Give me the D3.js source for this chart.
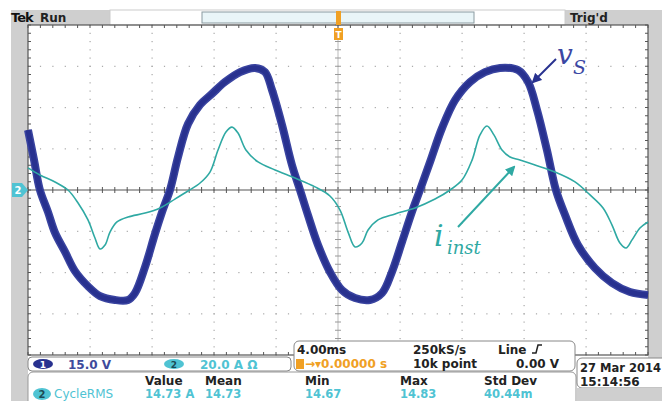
<!DOCTYPE html>
<html>
<head>
<meta charset="utf-8">
<script src="https://cdn.jsdelivr.net/npm/d3@7"></script>
<style>
  body { margin: 0; background: #fff; }
  svg { display: block; }
  .ui { font-family: "DejaVu Sans", sans-serif; font-weight: bold; }
  .note { font-family: "DejaVu Serif", serif; font-style: italic; }
</style>
</head>
<body>
<script>
// scope settings (per division)
const TIME_PER_DIV = 4;      // ms
const VOLT_PER_DIV = 15;     // V
const AMP_PER_DIV = 20;      // A

// v_s trace: time (ms) and volts
const vsTime = [0, 0.39, 0.77, 1.29, 1.74, 2.39, 3.03, 3.87, 4.65, 5.61, 6.45, 6.90, 7.55, 8.19, 8.71, 9.16,
  9.68, 10.32, 11.10, 11.87, 12.71, 13.68, 14.65, 15.29, 15.74, 16.39, 17.03, 17.55, 18.06, 18.71, 19.48,
  20.26, 21.10, 22.06, 22.84, 23.48, 24.13, 24.77, 25.29, 25.94, 26.71, 27.55, 28.52, 29.48, 30.45, 31.61,
  32.26, 32.84, 33.48, 34.06, 34.65, 35.48, 36.58, 37.68, 38.84, 40.0];
const vsVolts = [21.8, 10.9, 0, -8.0, -15.5, -22.5, -29.5, -35.0, -38.6, -40.0, -40.0, -37.5, -28.0, -16.0,
  -7.0, 0, 12.0, 24.0, 31.0, 35.0, 39.3, 42.9, 44.4, 42.9, 36.4, 23.6, 9.1, 0, -9.1, -20.0, -29.8, -36.4,
  -39.3, -40.0, -37.5, -29.8, -18.9, -8.0, 0, 10.2, 22.5, 32.7, 39.3, 42.9, 44.4, 43.6, 39.3, 29.1, 14.5,
  0, -9.1, -20.0, -28.4, -33.8, -37.1, -38.2];

// i_inst trace: time (ms) and amps
const iTime = [0, 0.77, 1.74, 2.58, 3.23, 3.87, 4.32, 4.65, 4.97, 5.29, 5.74, 6.45, 7.55, 8.52, 9.48, 10.32,
  11.10, 11.74, 12.26, 12.77, 13.16, 13.55, 14.06, 14.84, 15.94, 17.23, 18.52, 19.48, 20.13, 20.65, 21.10,
  21.55, 21.94, 22.58, 23.68, 24.97, 26.26, 27.23, 28.0, 28.65, 29.16, 29.61, 30.06, 30.58, 31.10, 31.74,
  32.71, 34.0, 35.29, 36.26, 37.10, 37.68, 38.19, 38.58, 38.97, 39.48, 40.0];
const iAmps = [10.7, 7.3, 3.9, 0, -6.3, -14.5, -23.3, -28.6, -26.7, -20.4, -15.5, -13.1, -11.2, -8.7, -4.4,
  -0.5, 3.4, 8.7, 19.4, 28.1, 30.5, 27.6, 19.4, 13.6, 9.7, 5.8, 1.5, -2.9, -9.7, -20.4, -27.6, -25.7, -19.4,
  -14.5, -11.6, -8.7, -4.4, 0, 4.8, 14.5, 26.7, 31.0, 26.7, 19.4, 16.0, 14.5, 12.1, 8.7, 3.9, -2.4, -8.7,
  -17.0, -25.7, -28.1, -24.2, -18.4, -15.5];

// readouts
const measHeaders = ["Value", "Mean", "Min", "Max", "Std Dev"];
const measValues = ["14.73 A", "14.73", "14.67", "14.83", "40.44m"];

const W = 662, H = 401;
const plot = { left: 28, right: 648, top: 25, bottom: 355 };
const BLUE = "#28318f", TEAL = "#2fa9a3", CYAN = "#4fc3d3", ORANGE = "#f0a024", GRAY = "#cfcfcf";

const svg = d3.select("body").append("svg").attr("width", W).attr("height", H);
svg.append("rect").attr("width", W).attr("height", H).attr("fill", "#fff");

const x = d3.scaleLinear().domain([0, 10 * TIME_PER_DIV]).range([plot.left, plot.right]);
const yDiv = d3.scaleLinear().domain([-4, 4]).range([plot.bottom, plot.top]);
const yV = d3.scaleLinear().domain([-4 * VOLT_PER_DIV, 4 * VOLT_PER_DIV]).range([plot.bottom, plot.top]);
const yA = d3.scaleLinear().domain([-4 * AMP_PER_DIV, 4 * AMP_PER_DIV]).range([plot.bottom, plot.top]);

/*** frame ***/
svg.append("rect").attr("x", 11).attr("y", 10).attr("width", 17).attr("height", H - 10).attr("fill", GRAY);
svg.append("rect").attr("x", 11).attr("y", 10).attr("width", 99).attr("height", 15).attr("fill", GRAY);
svg.append("rect").attr("x", 565).attr("y", 10).attr("width", 97).attr("height", 15).attr("fill", GRAY);
svg.append("rect").attr("x", 648).attr("y", 10).attr("width", 14).attr("height", H - 10).attr("fill", GRAY);
svg.append("rect").attr("x", 110).attr("y", 10).attr("width", 455).attr("height", 15)
  .attr("fill", "#fff").attr("stroke", "#ccc");
svg.append("rect").attr("x", 202).attr("y", 12).attr("width", 272).attr("height", 11)
  .attr("fill", "#e9f5f8").attr("stroke", "#8a9aa0");

svg.append("text").attr("class", "ui").attr("x", 11).attr("y", 22).attr("font-size", 13)
  .attr("fill", "#111").attr("letter-spacing", -1).text("Tek");
svg.append("text").attr("class", "ui").attr("x", 40).attr("y", 22).attr("font-size", 12)
  .attr("fill", "#222").text("Run");
svg.append("text").attr("class", "ui").attr("x", 570).attr("y", 22).attr("font-size", 12)
  .attr("fill", "#222").text("Trig'd");

/*** graticule ***/
const grid = svg.append("g");
const minorX = d3.range(0, 10 * TIME_PER_DIV + 0.001, TIME_PER_DIV / 5);
const minorY = d3.range(-4, 4.001, 0.2);
// dotted division lines
d3.range(1, 10).filter(d => d !== 5).forEach(k => {
  grid.selectAll(null).data(minorY).enter().append("rect")
    .attr("x", x(k * TIME_PER_DIV) - 0.5).attr("y", d => yDiv(d) - 0.5)
    .attr("width", 1.2).attr("height", 1.2).attr("fill", "#a8a8a8");
});
[-3, -2, -1, 1, 2, 3].forEach(k => {
  grid.selectAll(null).data(minorX).enter().append("rect")
    .attr("x", d => x(d) - 0.5).attr("y", yDiv(k) - 0.5)
    .attr("width", 1.2).attr("height", 1.2).attr("fill", "#a8a8a8");
});
// centre cross with minor ticks
grid.append("line").attr("x1", plot.left).attr("x2", plot.right).attr("y1", yDiv(0)).attr("y2", yDiv(0))
  .attr("stroke", "#555").attr("stroke-width", 1.2);
grid.append("line").attr("x1", x(5 * TIME_PER_DIV)).attr("x2", x(5 * TIME_PER_DIV))
  .attr("y1", plot.top).attr("y2", plot.bottom).attr("stroke", "#bbb").attr("stroke-width", 1);
grid.selectAll(null).data(minorX).enter().append("line")
  .attr("x1", d => x(d)).attr("x2", d => x(d))
  .attr("y1", yDiv(0) - 3).attr("y2", yDiv(0) + 3).attr("stroke", "#555");
grid.selectAll(null).data(minorY).enter().append("line")
  .attr("x1", x(5 * TIME_PER_DIV) - 3).attr("x2", x(5 * TIME_PER_DIV) + 3)
  .attr("y1", d => yDiv(d)).attr("y2", d => yDiv(d)).attr("stroke", "#999");
// border with inward ticks
grid.append("rect").attr("x", plot.left).attr("y", plot.top)
  .attr("width", plot.right - plot.left).attr("height", plot.bottom - plot.top)
  .attr("fill", "none").attr("stroke", "#555").attr("stroke-width", 1.2);
grid.selectAll(null).data(minorX).enter().append("line")
  .attr("x1", d => x(d)).attr("x2", d => x(d)).attr("y1", plot.top).attr("y2", plot.top + 3).attr("stroke", "#555");
grid.selectAll(null).data(minorX).enter().append("line")
  .attr("x1", d => x(d)).attr("x2", d => x(d)).attr("y1", plot.bottom).attr("y2", plot.bottom - 3).attr("stroke", "#555");
grid.selectAll(null).data(minorY).enter().append("line")
  .attr("x1", plot.left).attr("x2", plot.left + 3).attr("y1", d => yDiv(d)).attr("y2", d => yDiv(d)).attr("stroke", "#555");
grid.selectAll(null).data(minorY).enter().append("line")
  .attr("x1", plot.right).attr("x2", plot.right - 3).attr("y1", d => yDiv(d)).attr("y2", d => yDiv(d)).attr("stroke", "#555");

/*** traces ***/
const vsData = vsTime.map((t, i) => [t, vsVolts[i]]);
const iData = iTime.map((t, i) => [t, iAmps[i]]);

const vsLine = d3.line().x(d => x(d[0])).y(d => yV(d[1])).curve(d3.curveCatmullRom);
const iLine = d3.line().x(d => x(d[0])).y(d => yA(d[1])).curve(d3.curveCatmullRom);

// noisy band look: wide soft stroke under a solid core
svg.append("path").datum(vsData).attr("d", vsLine).attr("fill", "none")
  .attr("stroke", "#3a44a0").attr("stroke-width", 8).attr("stroke-linejoin", "round");
svg.append("path").datum(vsData).attr("d", vsLine).attr("fill", "none")
  .attr("stroke", BLUE).attr("stroke-width", 5).attr("stroke-linejoin", "round");
svg.append("path").datum(iData).attr("d", iLine).attr("fill", "none")
  .attr("stroke", TEAL).attr("stroke-width", 1.6);

/*** markers ***/
svg.append("rect").attr("x", 336).attr("y", 11).attr("width", 5).attr("height", 14).attr("fill", ORANGE);
svg.append("rect").attr("x", 334).attr("y", 28).attr("width", 9).attr("height", 12).attr("fill", ORANGE);
svg.append("text").attr("class", "ui").attr("x", 338.5).attr("y", 38).attr("font-size", 9)
  .attr("text-anchor", "middle").attr("fill", "#fff").text("T");

svg.append("path").attr("d", `M12,${yDiv(0) - 7} L22,${yDiv(0) - 7} L28,${yDiv(0)} L22,${yDiv(0) + 7} L12,${yDiv(0) + 7} Z`)
  .attr("fill", CYAN);
svg.append("text").attr("class", "ui").attr("x", 18).attr("y", yDiv(0) + 4).attr("font-size", 10)
  .attr("text-anchor", "middle").attr("fill", "#fff").text("2");

/*** annotations ***/
const ann = svg.append("g");
ann.append("defs").html(`
  <marker id="ah" viewBox="0 0 10 10" refX="8" refY="5" markerWidth="5" markerHeight="5" orient="auto">
    <path d="M0,0 L10,5 L0,10 Z" fill="${BLUE}"/></marker>
  <marker id="ah2" viewBox="0 0 10 10" refX="8" refY="5" markerWidth="5" markerHeight="5" orient="auto">
    <path d="M0,0 L10,5 L0,10 Z" fill="${TEAL}"/></marker>`);
ann.append("line").attr("x1", 556).attr("y1", 59).attr("x2", 533).attr("y2", 82)
  .attr("stroke", BLUE).attr("stroke-width", 2).attr("marker-end", "url(#ah)");
ann.append("text").attr("class", "note").attr("x", 557).attr("y", 64).attr("font-size", 28)
  .attr("fill", "#3b47a3").text("v");
ann.append("text").attr("class", "note").attr("x", 573).attr("y", 74).attr("font-size", 19)
  .attr("fill", "#3b47a3").text("S");

ann.append("line").attr("x1", 458).attr("y1", 227).attr("x2", 514).attr("y2", 167)
  .attr("stroke", TEAL).attr("stroke-width", 2).attr("marker-end", "url(#ah2)");
ann.append("text").attr("class", "note").attr("x", 434).attr("y", 246).attr("font-size", 30)
  .attr("fill", TEAL).text("i");
ann.append("text").attr("class", "note").attr("x", 447).attr("y", 254).attr("font-size", 18)
  .attr("fill", TEAL).text("inst");

/*** bottom readouts ***/
const bot = svg.append("g").attr("class", "ui");
bot.append("rect").attr("x", 28).attr("y", 372).attr("width", 548).attr("height", 40).attr("rx", 5)
  .attr("fill", "#fff").attr("stroke", "#999");
bot.append("rect").attr("x", 28).attr("y", 357).attr("width", 263).attr("height", 14).attr("rx", 4)
  .attr("fill", "#fff").attr("stroke", "#888");
bot.append("ellipse").attr("cx", 43).attr("cy", 364).attr("rx", 10).attr("ry", 5).attr("fill", BLUE);
bot.append("text").attr("x", 43).attr("y", 368).attr("font-size", 9).attr("text-anchor", "middle")
  .attr("fill", "#fff").text("1");
bot.append("text").attr("x", 68).attr("y", 369).attr("font-size", 12).attr("fill", "#3e4b9c").text("15.0 V");
bot.append("ellipse").attr("cx", 174).attr("cy", 364).attr("rx", 10).attr("ry", 5).attr("fill", CYAN);
bot.append("text").attr("x", 174).attr("y", 368).attr("font-size", 9).attr("text-anchor", "middle")
  .attr("fill", "#1c4a55").text("2");
bot.append("text").attr("x", 200).attr("y", 369).attr("font-size", 12).attr("fill", CYAN).text("20.0 A \u03A9");

// timebase box
bot.append("rect").attr("x", 294).attr("y", 341).attr("width", 281).attr("height", 30).attr("rx", 5)
  .attr("fill", "#fff").attr("stroke", "#888");
bot.append("text").attr("x", 297).attr("y", 354).attr("font-size", 12).attr("fill", "#222").text("4.00ms");
bot.append("text").attr("x", 413).attr("y", 354).attr("font-size", 12).attr("fill", "#222").text("250kS/s");
bot.append("text").attr("x", 498).attr("y", 354).attr("font-size", 12).attr("fill", "#222").text("Line");
bot.append("path").attr("d", "M532,353 L536,353 L538,345 L542,345").attr("fill", "none")
  .attr("stroke", "#222").attr("stroke-width", 1.5);
bot.append("rect").attr("x", 296).attr("y", 359).attr("width", 8).attr("height", 10).attr("fill", ORANGE);
bot.append("text").attr("x", 305).attr("y", 368).attr("font-size", 12).attr("fill", ORANGE).text("\u2192\u25BE0.00000 s");
bot.append("text").attr("x", 413).attr("y", 368).attr("font-size", 12).attr("fill", "#222").text("10k point");
bot.append("text").attr("x", 516).attr("y", 368).attr("font-size", 12).attr("fill", "#222").text("0.00 V");

// date box
svg.append("rect").attr("x", 577).attr("y", 388).attr("width", 85).attr("height", 13).attr("fill", GRAY);
bot.append("rect").attr("x", 577).attr("y", 358).attr("width", 90).attr("height", 30).attr("rx", 5)
  .attr("fill", "#fff").attr("stroke", "#888");
bot.append("text").attr("x", 580).attr("y", 372).attr("font-size", 11.5).attr("fill", "#222").text("27 Mar 2014");
bot.append("text").attr("x", 580).attr("y", 386).attr("font-size", 12).attr("fill", "#222").text("15:14:56");

// measurement table
const colPos = { "Value": 145, "Mean": 205, "Min": 305, "Max": 400, "Std Dev": 484 };
bot.selectAll(null).data(measHeaders).enter().append("text")
  .attr("x", d => colPos[d]).attr("y", 385).attr("font-size", 12).attr("fill", "#222").text(d => d);
bot.selectAll(null).data(measValues).enter().append("text")
  .attr("x", (d, i) => colPos[measHeaders[i]]).attr("y", 398).attr("font-size", 11.5)
  .attr("fill", CYAN).text(d => d);
bot.append("ellipse").attr("cx", 42).attr("cy", 394).attr("rx", 9).attr("ry", 6).attr("fill", CYAN);
bot.append("text").attr("x", 42).attr("y", 398).attr("font-size", 10).attr("text-anchor", "middle")
  .attr("fill", "#1c4a55").text("2");
bot.append("text").attr("x", 54).attr("y", 398).attr("font-size", 12).attr("fill", CYAN)
  .attr("font-weight", "normal").text("CycleRMS");
</script>
</body>
</html>
